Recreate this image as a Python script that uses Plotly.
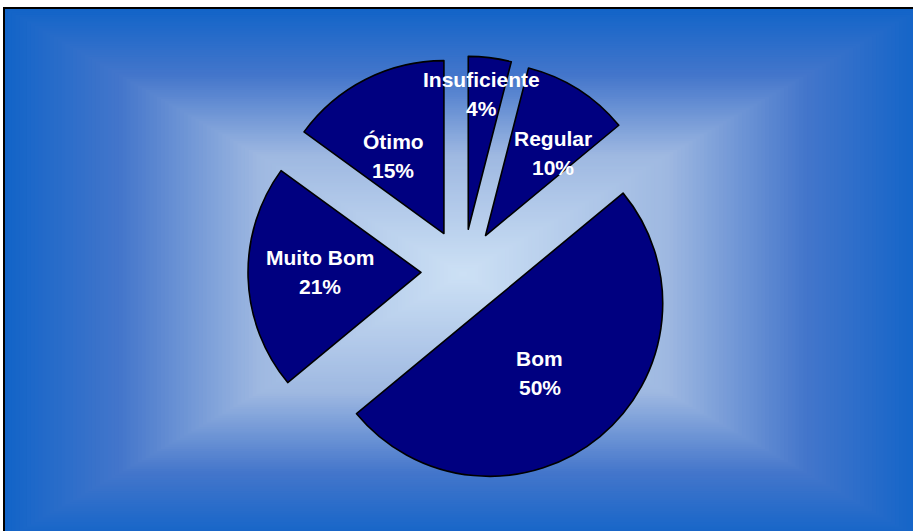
import math
import plotly.graph_objects as go

# ---- data ----
categories = ["Insuficiente", "Regular", "Bom", "Muito Bom", "Ótimo"]
values = [4, 10, 50, 21, 15]

# ---- style / layout (not data) ----
W, H = 913, 531
ML, MR, MT, MB = 13, 0, 56, 45
PULL = 0.243
SLICE_COLOR = "#000080"
# label distance from pie centre (fraction of radius) and small angle tweaks (deg)
label_dist = [1.03, 0.86, 0.741, 0.827, 0.776]
label_dang = [-1.4, 4.8, 2.7, 1.4, -4.4]

pw, ph = W - ML - MR, H - MT - MB


def px2paper(px, py):
    return (px - ML) / pw, 1 - (py - MT) / ph


fig = go.Figure()
fig.add_trace(go.Pie(
    labels=categories,
    values=values,
    sort=False,
    direction="clockwise",
    rotation=0,
    pull=[PULL] * len(values),
    marker=dict(colors=[SLICE_COLOR] * len(values), line=dict(color="black", width=1.6)),
    textinfo="none",
    hoverinfo="label+percent",
    showlegend=False,
))

# ---- background: rectangular "from centre" gradient ----
fx0, fy0, fx1, fy1 = 4, 8, 922, 540
fcx, fcy = (fx0 + fx1) / 2, (fy0 + fy1) / 2
hw, hh = (fx1 - fx0) / 2, (fy1 - fy0) / 2
stops = [(0.0, (205, 225, 245)), (0.45, (158, 184, 225)), (0.75, (68, 118, 203)), (1.0, (18, 100, 200))]


def grad(t):
    for (t0, c0), (t1, c1) in zip(stops[:-1], stops[1:]):
        if t <= t1:
            a = (t - t0) / (t1 - t0)
            return tuple(round(c0[i] + (c1[i] - c0[i]) * a) for i in range(3))
    return stops[-1][1]


shapes = []
N = 120
for k in range(N):
    t = 1 - k / N
    x0, y0 = px2paper(fcx - hw * t, fcy - hh * t)
    x1, y1 = px2paper(fcx + hw * t, fcy + hh * t)
    c = grad(t)
    shapes.append(dict(type="rect", xref="paper", yref="paper", x0=x0, y0=y1, x1=x1, y1=y0,
                       fillcolor=f"rgb{c}", line=dict(width=0), layer="below"))
bx0, by0 = px2paper(fx0, fy0)
bx1, by1 = px2paper(fx1 + 5, fy1 + 5)
shapes.append(dict(type="rect", xref="paper", yref="paper", x0=bx0, y0=by1, x1=bx1, y1=by0,
                   fillcolor="rgba(0,0,0,0)", line=dict(color="black", width=2), layer="below"))

# ---- labels computed from the pie geometry ----
cx = ML + pw / 2
cy = MT + ph / 2
r = min(pw, ph) / (2 + 2 * PULL)
total = sum(values)
annotations = []
cum = 0
for i, (name, v) in enumerate(zip(categories, values)):
    theta = math.radians(360 * (cum + v / 2) / total + label_dang[i])
    cum += v
    d = r * label_dist[i]
    lx, ly = px2paper(cx + d * math.sin(theta), cy - d * math.cos(theta))
    pct = f"{v / total * 100:.0f}%"
    for txt, ys in ((name, 14.5), (pct, -14.5)):
        annotations.append(dict(x=lx, y=ly, xref="paper", yref="paper", text=f"<b>{txt}</b>",
                                showarrow=False, yshift=ys, xanchor="center", yanchor="middle",
                                font=dict(family="Liberation Sans, Arial, sans-serif", size=21, color="white")))

fig.update_layout(
    width=W, height=H,
    margin=dict(l=ML, r=MR, t=MT, b=MB, pad=0),
    paper_bgcolor="white",
    plot_bgcolor="white",
    shapes=shapes,
    annotations=annotations,
)

fig.write_html("out.html", config={"displayModeBar": False},
               post_script="document.body.style.margin='0';document.body.style.overflow='hidden';")
